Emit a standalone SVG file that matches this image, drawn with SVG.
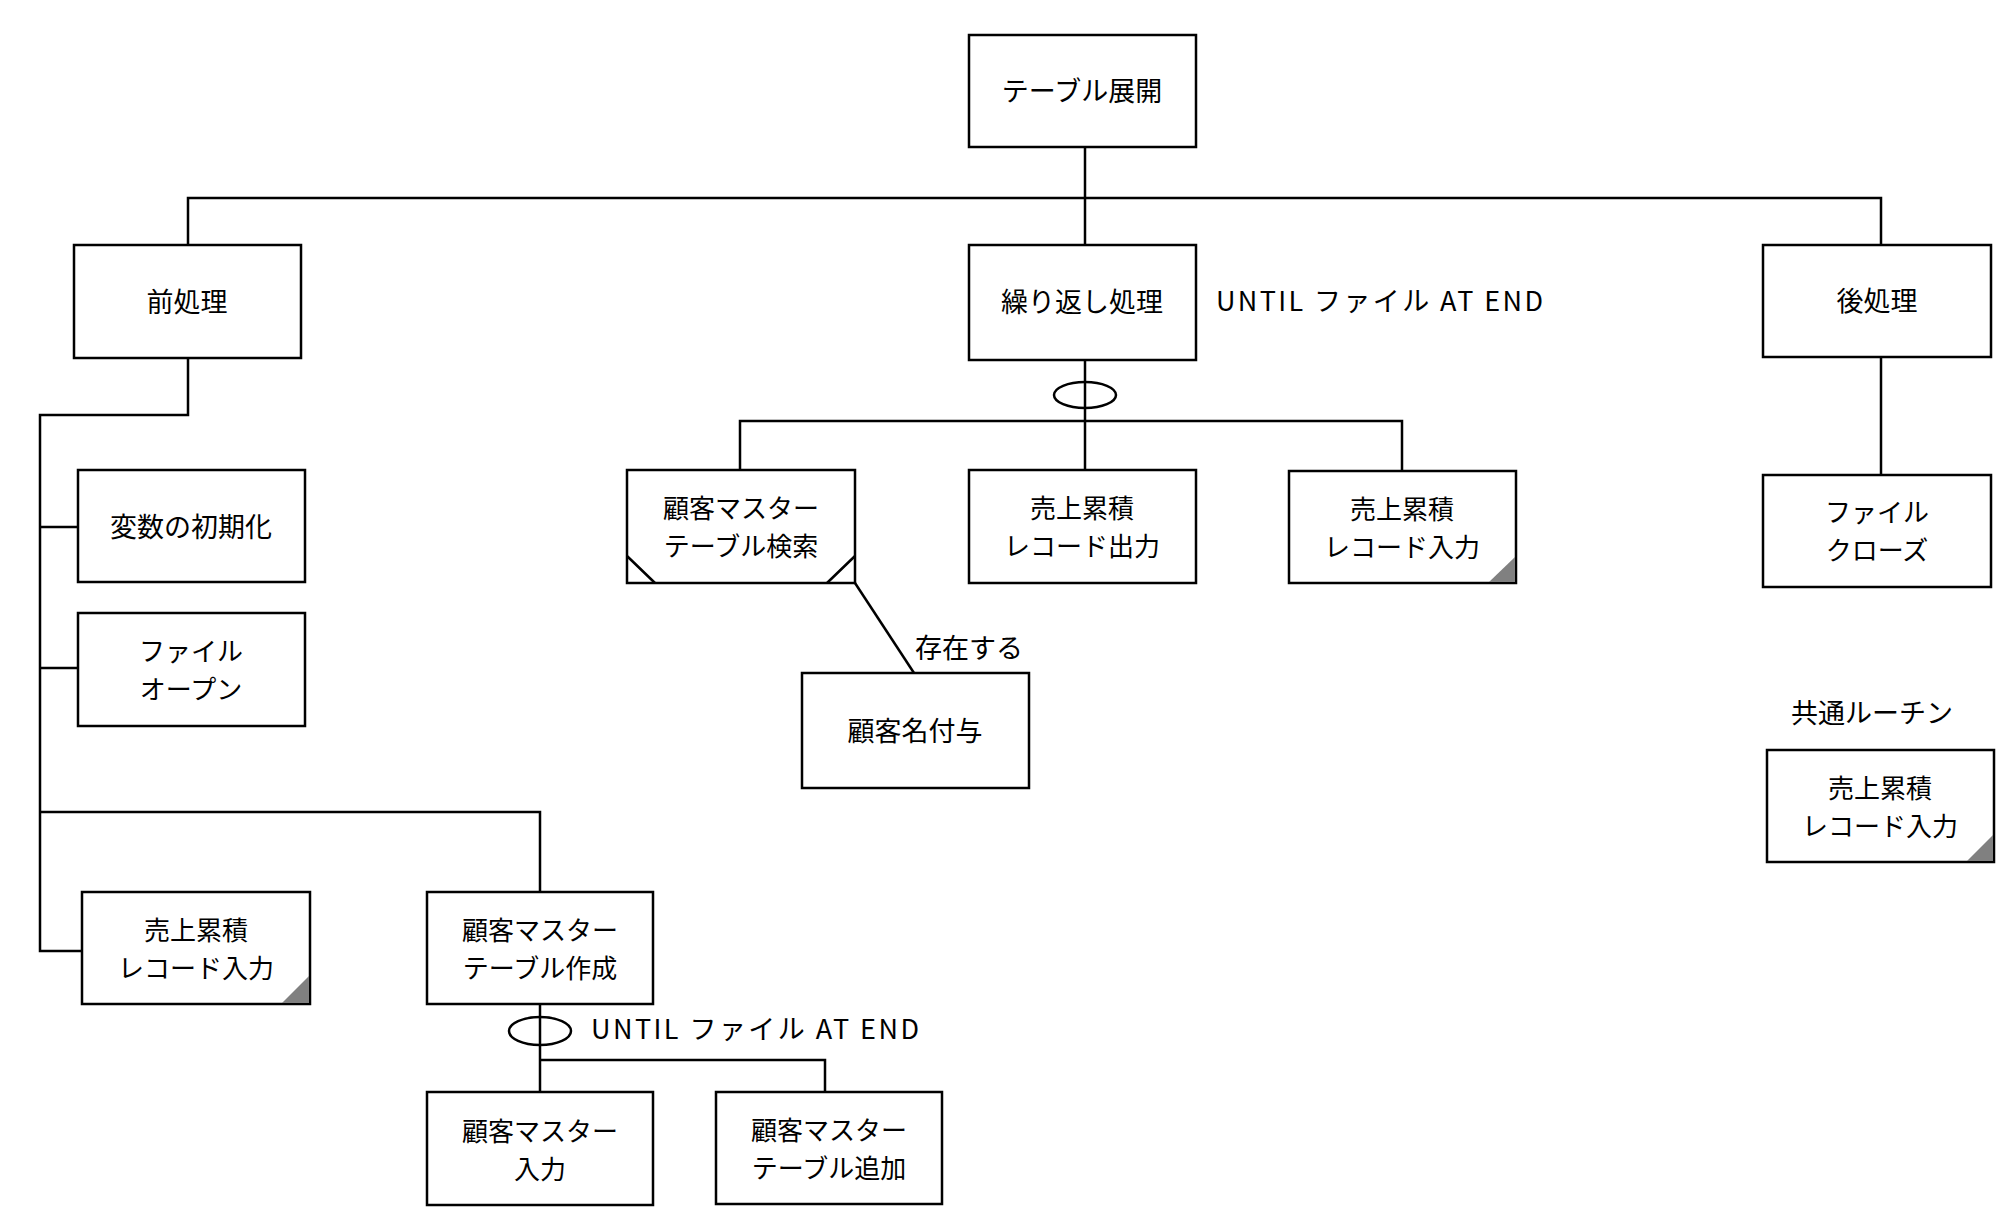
<svg xmlns="http://www.w3.org/2000/svg" width="2015" height="1225" viewBox="0 0 2015 1225">
<style>
.box{fill:#fff;stroke:#000;stroke-width:2.5}
.ln{fill:none;stroke:#000;stroke-width:2.5}
.t{font-family:"Noto Sans CJK JP","Noto Sans",sans-serif;font-size:27px;fill:#000;text-anchor:middle;dominant-baseline:central}
.t2{font-family:"Noto Sans CJK JP","Noto Sans",sans-serif;font-size:26px;fill:#000;text-anchor:middle;dominant-baseline:central}
.tl{font-family:"Noto Sans CJK JP","Noto Sans",sans-serif;font-size:27px;fill:#000;text-anchor:start;dominant-baseline:central}
.corner{fill:#808080;stroke:none}
</style>
<rect width="2015" height="1225" fill="#fff"/>
<g id="connectors">
<path class="ln" d="M1085 147 V245"/>
<path class="ln" d="M188 245 V198 H1881 V245"/>
<path class="ln" d="M1085 360 V470"/>
<path class="ln" d="M740 470 V421 H1402 V470"/>
<ellipse class="ln" cx="1085" cy="395" rx="31" ry="13"/>
<path class="ln" d="M855 583 L914 673"/>
<path class="ln" d="M1881 357 V475"/>
<path class="ln" d="M188 358 V415 H40 V951 H82"/>
<path class="ln" d="M40 527 H78"/>
<path class="ln" d="M40 668 H78"/>
<path class="ln" d="M40 812 H540 V892"/>
<path class="ln" d="M540 1004 V1092"/>
<path class="ln" d="M540 1060 H825 V1092"/>
<ellipse class="ln" cx="540" cy="1031" rx="31" ry="14"/>
</g>
<g id="labels">
<text class="tl" x="1216" y="299" textLength="327" lengthAdjust="spacing">UNTIL ファイル AT END</text>
<text class="tl" x="915" y="646">存在する</text>
<text class="tl" x="591" y="1027" textLength="328" lengthAdjust="spacing">UNTIL ファイル AT END</text>
<text class="t" x="1872" y="711">共通ルーチン</text>
</g>
<g id="n-root"><rect class="box" x="969" y="35" width="227" height="112"/><text class="t" x="1082" y="89">テーブル展開</text></g>
<g id="n-pre"><rect class="box" x="74" y="245" width="227" height="113"/><text class="t" x="187" y="300">前処理</text></g>
<g id="n-loop"><rect class="box" x="969" y="245" width="227" height="115"/><text class="t" x="1082" y="300">繰り返し処理</text></g>
<g id="n-post"><rect class="box" x="1763" y="245" width="228" height="112"/><text class="t" x="1877" y="299">後処理</text></g>
<g id="n-search"><rect class="box" x="627" y="470" width="228" height="113"/>
<path class="ln" d="M627 556 L655 583 M855 556 L827 583"/>
<text class="t2" x="741" y="506"><tspan x="741" y="506">顧客マスター</tspan><tspan x="741" y="544">テーブル検索</tspan></text></g>
<g id="n-out"><rect class="box" x="969" y="470" width="227" height="113"/><text class="t2" x="1082" y="506"><tspan x="1082" y="506">売上累積</tspan><tspan x="1082" y="544">レコード出力</tspan></text></g>
<g id="n-in1"><rect class="box" x="1289" y="471" width="227" height="112"/><polygon class="corner" points="1489,582 1515,557 1515,582"/><text class="t2" x="1402" y="507"><tspan x="1402" y="507">売上累積</tspan><tspan x="1402" y="545">レコード入力</tspan></text></g>
<g id="n-close"><rect class="box" x="1763" y="475" width="228" height="112"/><text class="t2" x="1877" y="510"><tspan x="1877" y="510">ファイル</tspan><tspan x="1877" y="548">クローズ</tspan></text></g>
<g id="n-name"><rect class="box" x="802" y="673" width="227" height="115"/><text class="t" x="915" y="729">顧客名付与</text></g>
<g id="n-common"><rect class="box" x="1767" y="750" width="227" height="112"/><polygon class="corner" points="1967,861 1993,835 1993,861"/><text class="t2" x="1880" y="786"><tspan x="1880" y="786">売上累積</tspan><tspan x="1880" y="824">レコード入力</tspan></text></g>
<g id="n-init"><rect class="box" x="78" y="470" width="227" height="112"/><text class="t" x="191" y="525">変数の初期化</text></g>
<g id="n-open"><rect class="box" x="78" y="613" width="227" height="113"/><text class="t2" x="191" y="649"><tspan x="191" y="649">ファイル</tspan><tspan x="191" y="687">オープン</tspan></text></g>
<g id="n-in2"><rect class="box" x="82" y="892" width="228" height="112"/><polygon class="corner" points="282,1003 309,976 309,1003"/><text class="t2" x="196" y="928"><tspan x="196" y="928">売上累積</tspan><tspan x="196" y="966">レコード入力</tspan></text></g>
<g id="n-create"><rect class="box" x="427" y="892" width="226" height="112"/><text class="t2" x="540" y="928"><tspan x="540" y="928">顧客マスター</tspan><tspan x="540" y="966">テーブル作成</tspan></text></g>
<g id="n-minput"><rect class="box" x="427" y="1092" width="226" height="113"/><text class="t2" x="540" y="1129"><tspan x="540" y="1129">顧客マスター</tspan><tspan x="540" y="1167">入力</tspan></text></g>
<g id="n-add"><rect class="box" x="716" y="1092" width="226" height="112"/><text class="t2" x="829" y="1128"><tspan x="829" y="1128">顧客マスター</tspan><tspan x="829" y="1166">テーブル追加</tspan></text></g>
</svg>
